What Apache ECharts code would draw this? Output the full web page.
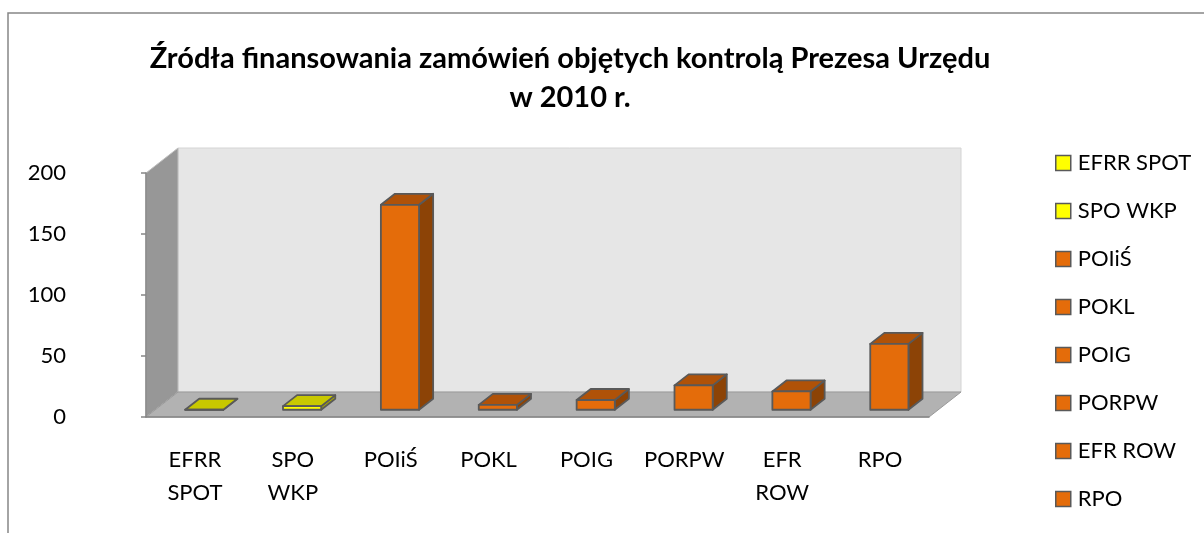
<!DOCTYPE html>
<html>
<head>
<meta charset="utf-8">
<script src="https://cdn.jsdelivr.net/npm/echarts@6/dist/echarts.min.js"></script>
<style>
  html, body { margin: 0; padding: 0; background: #fff; }
  #main { width: 1204px; height: 533px; }
</style>
</head>
<body>
<div id="main"></div>
<script>
// kategorie i wartości (liczba zamówień)
var categories = ['EFRR SPOT', 'SPO WKP', 'POIiŚ', 'POKL', 'POIG', 'PORPW', 'EFR ROW', 'RPO'];
var axisLabels = ['EFRR\nSPOT', 'SPO\nWKP', 'POIiŚ', 'POKL', 'POIG', 'PORPW', 'EFR\nROW', 'RPO'];
var values = [0, 3, 168, 4, 8, 20, 15, 54];
var yTicks = [0, 50, 100, 150, 200];

// kolory: przód, góra, bok
var yellow = ['#ffff00', '#c8c800', '#a8a800'];
var orange = ['#e46c0a', '#b05208', '#8c4306'];
var palette = [yellow, yellow, orange, orange, orange, orange, orange, orange];

var FONT = 'Lato, Carlito, sans-serif';
var DX = 32, DY = -25;        // głębokość "3D"
var F1 = 0.29, F2 = 0.73;     // położenie słupka w głębi
var BAR_W = 0.39;

var myChart = echarts.init(document.getElementById('main'));

function renderWalls(params, api) {
    var cs = params.coordSys;
    var x0 = cs.x, x1 = cs.x + cs.width;
    var yT = cs.y, yB = cs.y + cs.height;
    return {
        type: 'group',
        children: [
            { type: 'polygon', shape: { points: [[x0 + DX, yT + DY], [x1 + DX, yT + DY], [x1 + DX, yB + DY], [x0 + DX, yB + DY]] },
              style: { fill: '#e6e6e6', stroke: '#d4d4d4', lineWidth: 1 } },
            { type: 'polygon', shape: { points: [[x0, yT], [x0 + DX, yT + DY], [x0 + DX, yB + DY], [x0, yB]] },
              style: { fill: '#979797', stroke: '#bfbfbf', lineWidth: 1 } },
            { type: 'polygon', shape: { points: [[x0, yB], [x0 + DX, yB + DY], [x1 + DX, yB + DY], [x1, yB]] },
              style: { fill: '#b2b2b2', stroke: '#999999', lineWidth: 1 } }
        ]
    };
}

function makeBox(colors) {
    return function (params, api) {
        var band = api.size([1, 0])[0];
        var top = api.coord([api.value(0), api.value(1)]);
        var base = api.coord([api.value(0), 0]);
        var w = band * BAR_W;
        var xl = top[0] - w / 2 + F1 * DX;
        var yT = top[1] + F1 * DY;
        var yB = base[1] + F1 * DY;
        var ddx = (F2 - F1) * DX, ddy = (F2 - F1) * DY;
        var line = { stroke: '#595959', lineWidth: 1.8, lineJoin: 'round' };
        return {
            type: 'group',
            children: [
                { type: 'polygon', shape: { points: [[xl + w, yT], [xl + w + ddx, yT + ddy], [xl + w + ddx, yB + ddy], [xl + w, yB]] },
                  style: Object.assign({ fill: colors[2] }, line) },
                { type: 'polygon', shape: { points: [[xl, yT], [xl + w, yT], [xl + w + ddx, yT + ddy], [xl + ddx, yT + ddy]] },
                  style: Object.assign({ fill: colors[1] }, line) },
                { type: 'rect', shape: { x: xl, y: yT, width: w, height: yB - yT },
                  style: Object.assign({ fill: colors[0] }, line) }
            ]
        };
    };
}

var series = [{
    name: 'walls',
    type: 'custom',
    silent: true,
    z: -5,
    renderItem: renderWalls,
    data: [[0, 0]]
}];
categories.forEach(function (name, i) {
    series.push({
        name: name,
        type: 'custom',
        itemStyle: { color: palette[i][0] },
        renderItem: makeBox(palette[i]),
        data: [[i, values[i]]]
    });
});

var option = {
    animation: false,
    title: {
        text: 'Źródła finansowania zamówień objętych kontrolą Prezesa Urzędu\nw 2010 r.',
        left: 565,
        top: 34,
        textAlign: 'center',
        textStyle: { fontFamily: FONT, fontSize: 29, fontWeight: 'bold', color: '#000', lineHeight: 39 }
    },
    graphic: [{
        type: 'rect',
        shape: { x: 8, y: 13, width: 1220, height: 540 },
        style: { fill: null, stroke: '#868686', lineWidth: 1.5 },
        silent: true
    }],
    legend: {
        data: categories,
        orient: 'vertical',
        left: 1050,
        top: 146,
        icon: 'rect',
        itemWidth: 15,
        itemHeight: 15,
        itemGap: 24,
        itemStyle: { borderColor: '#595959', borderWidth: 1.5 },
        textStyle: { fontFamily: FONT, fontSize: 22, color: '#000', lineHeight: 24, padding: [0, 0, 0, 2] }
    },
    grid: { left: 146, right: 275, top: 173, bottom: 116 },
    xAxis: {
        type: 'category',
        data: categories,
        axisLine: { lineStyle: { color: '#868686', width: 1.5 } },
        axisTick: { length: 7, lineStyle: { color: '#868686', width: 1.5 } },
        axisLabel: {
            margin: 26,
            color: '#000',
            fontFamily: FONT,
            fontSize: 22,
            lineHeight: 33,
            interval: 0,
            formatter: function (v, i) { return axisLabels[i]; }
        }
    },
    yAxis: {
        type: 'value',
        min: yTicks[0],
        max: yTicks[yTicks.length - 1],
        interval: yTicks[1] - yTicks[0],
        splitLine: { show: false },
        axisLine: { show: true, lineStyle: { color: '#868686', width: 1.5 } },
        axisTick: { show: true, length: 5, lineStyle: { color: '#868686', width: 1.5 } },
        axisLabel: { margin: 80, color: '#000', fontFamily: FONT, fontSize: 22 }
    },
    series: series
};
myChart.setOption(option);
</script>
</body>
</html>
